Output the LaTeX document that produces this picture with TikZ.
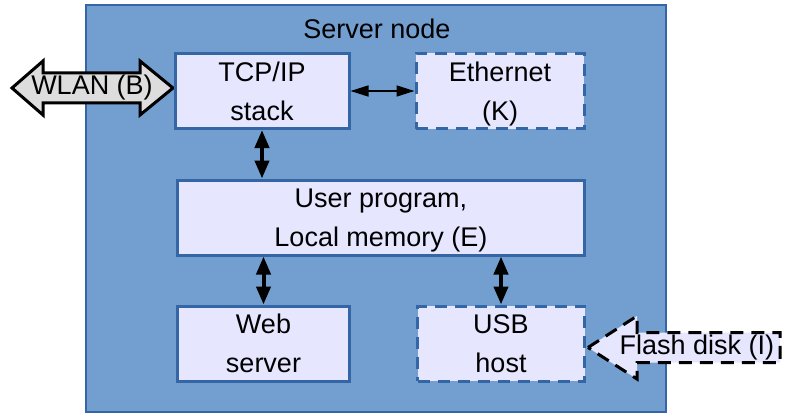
\documentclass[tikz,border=0pt]{standalone}
\usepackage{fontspec}
\setmainfont{Liberation Sans}
\usetikzlibrary{arrows.meta}
\definecolor{serverblue}{HTML}{729FCF}
\definecolor{borderblue}{HTML}{3465A4}
\definecolor{boxfill}{HTML}{E6E6FF}
\definecolor{wlangray}{HTML}{DDDDDD}

\begin{document}
\begin{tikzpicture}[x=1pt, y=1pt,
  font=\fontsize{27}{39}\selectfont,
  server/.style={draw=borderblue, line width=2.5pt, fill=serverblue, minimum width=580pt, minimum height=407pt, inner sep=0pt},
  block/.style={draw=borderblue, line width=3pt, fill=boxfill, align=center, minimum height=75pt, inner sep=0pt, text depth=0pt},
  dashblock/.style={block, dash pattern=on 12pt off 8pt},
  bigarrow/.style={line width=4pt, {Triangle[length=18pt,width=14pt]}-{Triangle[length=18pt,width=14pt]}},
  thinarrow/.style={line width=1.5pt, {Triangle[length=18pt,width=11pt]}-{Triangle[length=18pt,width=11pt]}}]
  \useasboundingbox (0,0) rectangle (785,416);
  \node[server] (server) at (376,207.5) {};
  \node (title) at (377,387) {Server node};

  \draw[line width=3pt, fill=wlangray, line join=miter] (12,328) -- (43,355) -- (43,343) -- (140,343) -- (140,355) -- (173,328)
    -- (140,301) -- (140,313) -- (43,313) -- (43,301) -- cycle;
  \node (wlan) at (92,328) {WLAN (B)};

  \node[block, minimum width=174pt] (tcp) at (262,325) {TCP/IP\\stack};
  \node[dashblock, minimum width=168pt] (eth) at (500,325) {Ethernet\\(K)};
  \node[block, minimum width=407pt] (user) at (381,198.5) {User program,\\Local memory (E)};
  \node[block, minimum width=172pt] (web) at (263.5,72.5) {Web\\server};
  \node[dashblock, minimum width=167pt] (usb) at (501,72.5) {USB\\host};

  \draw[thinarrow] (tcp.east) -- (eth.west);
  \draw[bigarrow] (tcp.south) -- (tcp.south |- user.north);
  \draw[bigarrow] (user.south -| web.north) -- (web.north);
  \draw[bigarrow] (user.south -| usb.north) -- (usb.north);

  \draw[line width=3pt, dash pattern=on 13pt off 8pt, fill=boxfill, line join=miter] (588,68.5) -- (637,100) -- (637,83.5) -- (780,83.5)
    -- (780,53.5) -- (637,53.5) -- (637,37) -- cycle;
  \node (flash) at (697,68.5) {Flash disk (I)};
\end{tikzpicture}
\end{document}
